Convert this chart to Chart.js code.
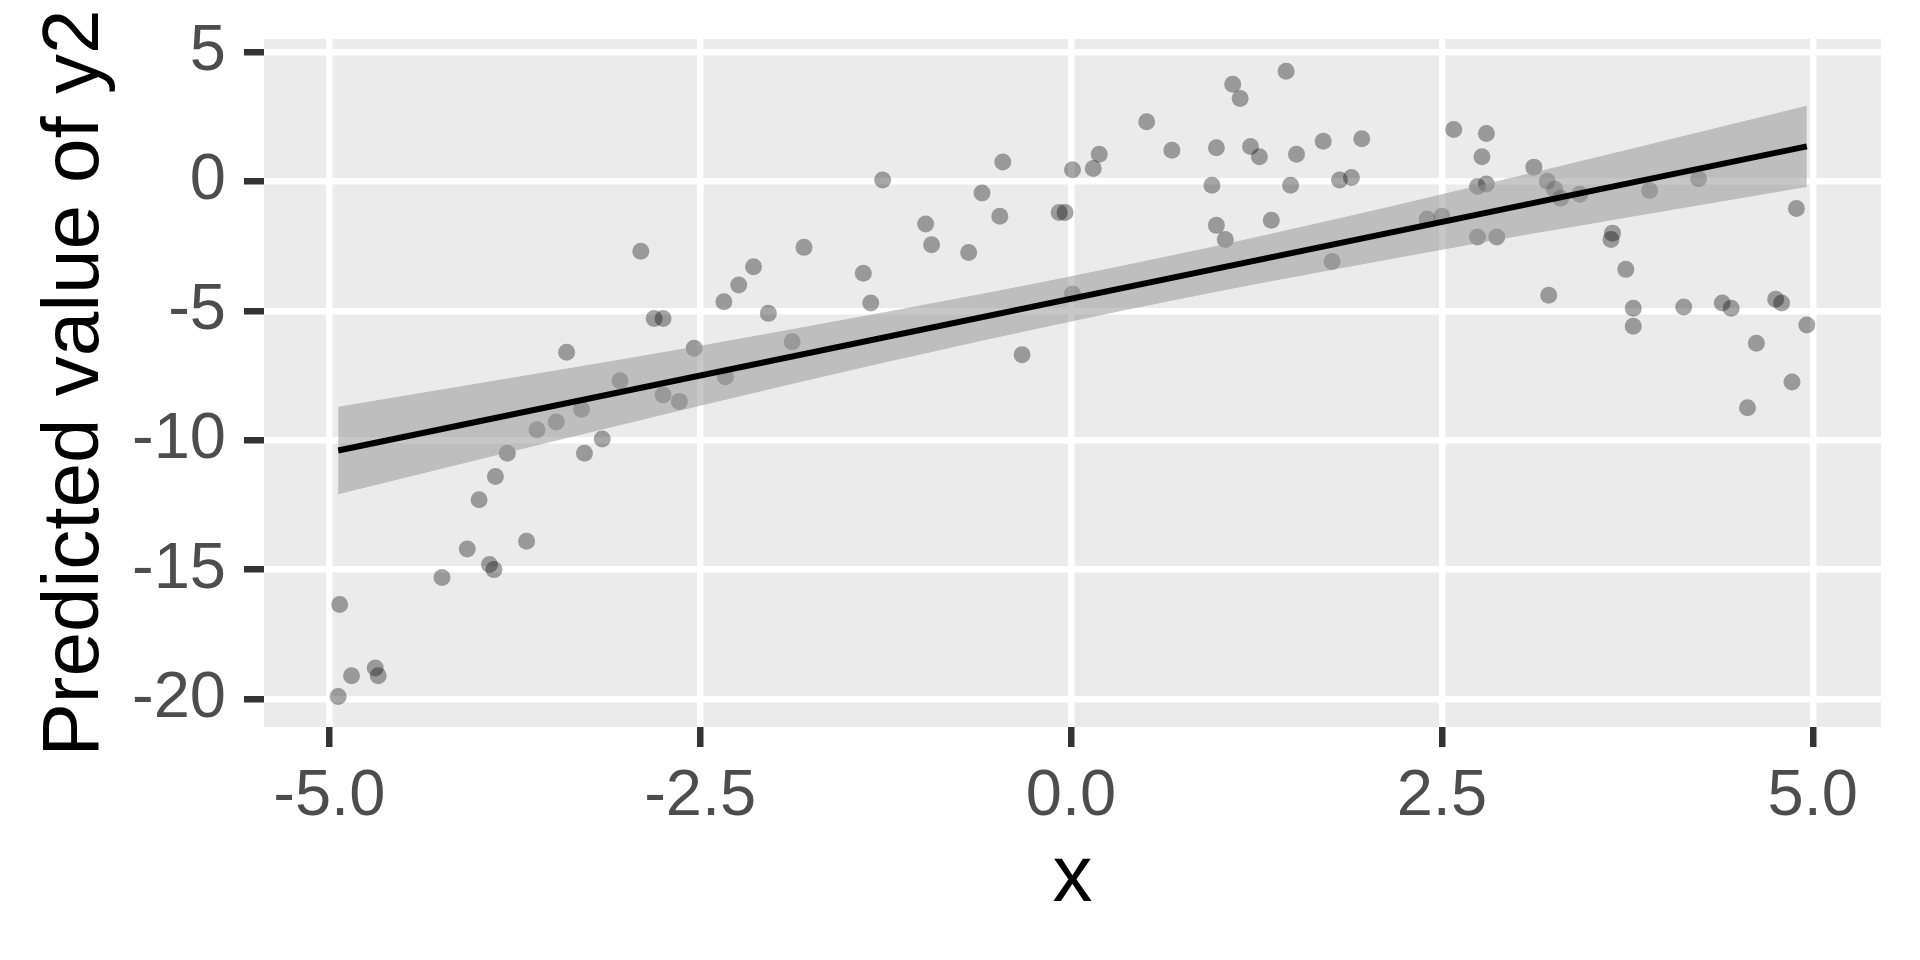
<!DOCTYPE html>
<html>
<head>
<meta charset="utf-8">
<script src="https://cdn.jsdelivr.net/npm/chart.js@4"></script>
<style>
  body { margin: 0; background: #fff; }
</style>
</head>
<body>
<canvas id="chart" width="1920" height="960"></canvas>
<script>
// observed points (x, y2)
const xPts = [-4.94,-4.93,-4.85,-4.69,-4.67,-4.24,-4.07,-3.99,-3.92,-3.89,
  -3.88,-3.80,-3.67,-3.60,-3.47,-3.40,-3.30,-3.28,-3.16,-3.04,
  -2.90,-2.81,-2.75,-2.75,-2.64,-2.54,-2.34,-2.33,-2.24,-2.14,
  -2.04,-1.88,-1.80,-1.40,-1.35,-1.27,-0.98,-0.94,-0.69,-0.60,
  -0.48,-0.46,-0.33,-0.08,-0.04,0.01,0.01,0.15,0.19,0.51,
  0.68,0.95,0.98,0.98,1.04,1.09,1.14,1.21,1.27,1.35,
  1.45,1.48,1.52,1.70,1.76,1.81,1.89,1.96,2.40,2.50,
  2.58,2.74,2.74,2.77,2.80,2.80,2.87,3.12,3.21,3.22,
  3.26,3.30,3.43,3.64,3.65,3.74,3.79,3.79,3.90,4.13,
  4.23,4.39,4.45,4.56,4.62,4.75,4.79,4.86,4.89,4.96];
const yPts = [-19.9,-16.35,-19.1,-18.8,-19.1,-15.3,-14.2,-12.3,-14.8,-15.0,
  -11.4,-10.5,-13.9,-9.6,-9.3,-6.6,-8.8,-10.5,-9.95,-7.7,
  -2.7,-5.3,-5.3,-8.25,-8.5,-6.45,-4.65,-7.55,-4.0,-3.3,
  -5.1,-6.2,-2.55,-3.55,-4.7,0.05,-1.65,-2.45,-2.75,-0.45,
  -1.35,0.75,-6.7,-1.2,-1.2,0.45,-4.35,0.5,1.05,2.3,
  1.2,-0.15,1.3,-1.7,-2.25,3.75,3.2,1.35,0.95,-1.5,
  4.25,-0.15,1.05,1.55,-3.1,0.05,0.15,1.65,-1.45,-1.35,
  2.0,-0.2,-2.15,0.95,1.85,-0.1,-2.15,0.55,0.0,-4.4,
  -0.3,-0.65,-0.5,-2.25,-2.0,-3.4,-4.9,-5.6,-0.35,-4.85,
  0.1,-4.7,-4.9,-8.75,-6.25,-4.55,-4.7,-7.75,-1.05,-5.55];

// fitted line and confidence band
const fitX = [-4.94, 4.96];
const fitY = [-10.40, 1.35];
const bandX = [-4.94,-3.75,-2.5,-1.25,0,1.25,2.5,3.75,4.96];
const bandUpper = [-8.71,-7.57,-6.35,-5.05,-3.67,-2.15,-0.50,1.22,2.92];
const bandLower = [-12.09,-10.41,-8.67,-6.99,-5.41,-3.97,-2.64,-1.40,-0.22];

// axis ticks
const xTicks = [-5.0, -2.5, 0.0, 2.5, 5.0];
const yTicks = [-20, -15, -10, -5, 0, 5];

const toXY = (xs, ys) => xs.map((x, i) => ({x: x, y: ys[i]}));

const panelBg = {
  id: 'panelBg',
  beforeDraw(c) {
    const a = c.chartArea;
    c.ctx.save();
    c.ctx.fillStyle = '#EBEBEB';
    c.ctx.fillRect(a.left, a.top, a.right - a.left, a.bottom - a.top);
    c.ctx.restore();
  }
};

const titleFont = { family: 'Liberation Sans', size: 80 };
const gridOpts = { color: '#FFFFFF', lineWidth: 6.5, tickLength: 20, tickColor: '#333333', tickWidth: 6.5 };

new Chart(document.getElementById('chart').getContext('2d'), {
  type: 'scatter',
  data: {
    datasets: [
      {
        data: toXY(fitX, fitY),
        showLine: true,
        borderColor: '#000000',
        borderWidth: 6,
        pointRadius: 0
      },
      {
        data: toXY(bandX, bandUpper),
        showLine: true,
        borderWidth: 0,
        pointRadius: 0,
        cubicInterpolationMode: 'monotone',
        backgroundColor: 'rgba(153,153,153,0.55)',
        fill: '+1'
      },
      {
        data: toXY(bandX, bandLower),
        showLine: true,
        borderWidth: 0,
        pointRadius: 0,
        cubicInterpolationMode: 'monotone'
      },
      {
        data: toXY(xPts, yPts),
        pointRadius: 8.5,
        pointBackgroundColor: 'rgba(0,0,0,0.35)',
        pointBorderWidth: 0
      }
    ]
  },
  options: {
    responsive: false,
    devicePixelRatio: 1,
    animation: false,
    layout: { padding: { top: 39, right: 39, left: 0, bottom: 0 } },
    plugins: { legend: { display: false }, tooltip: { enabled: false } },
    scales: {
      x: {
        type: 'linear',
        min: -5.44,
        max: 5.46,
        afterFit: s => { s.height = 233; },
        afterBuildTicks: s => { s.ticks = xTicks.map(v => ({value: v})); },
        ticks: {
          font: { family: 'Liberation Sans', size: 65 },
          color: '#4D4D4D',
          padding: 11,
          maxRotation: 0,
          callback: v => v.toFixed(1)
        },
        grid: gridOpts,
        border: { display: false },
        title: { display: true, text: 'x', font: titleFont, color: '#000000', padding: { top: 0, bottom: 33 } }
      },
      y: {
        type: 'linear',
        min: -21.08,
        max: 5.5,
        afterFit: s => { s.width = 264; },
        afterBuildTicks: s => { s.ticks = yTicks.map(v => ({value: v})); },
        ticks: {
          font: { family: 'Liberation Sans', size: 65, lineHeight: 0.4 },
          color: '#4D4D4D',
          padding: 18,
          callback: v => String(v)
        },
        grid: gridOpts,
        border: { display: false },
        title: { display: true, text: 'Predicted value of y2', font: titleFont, color: '#000000', padding: { top: 28, bottom: 0 } }
      }
    }
  },
  plugins: [panelBg]
});
</script>
</body>
</html>
